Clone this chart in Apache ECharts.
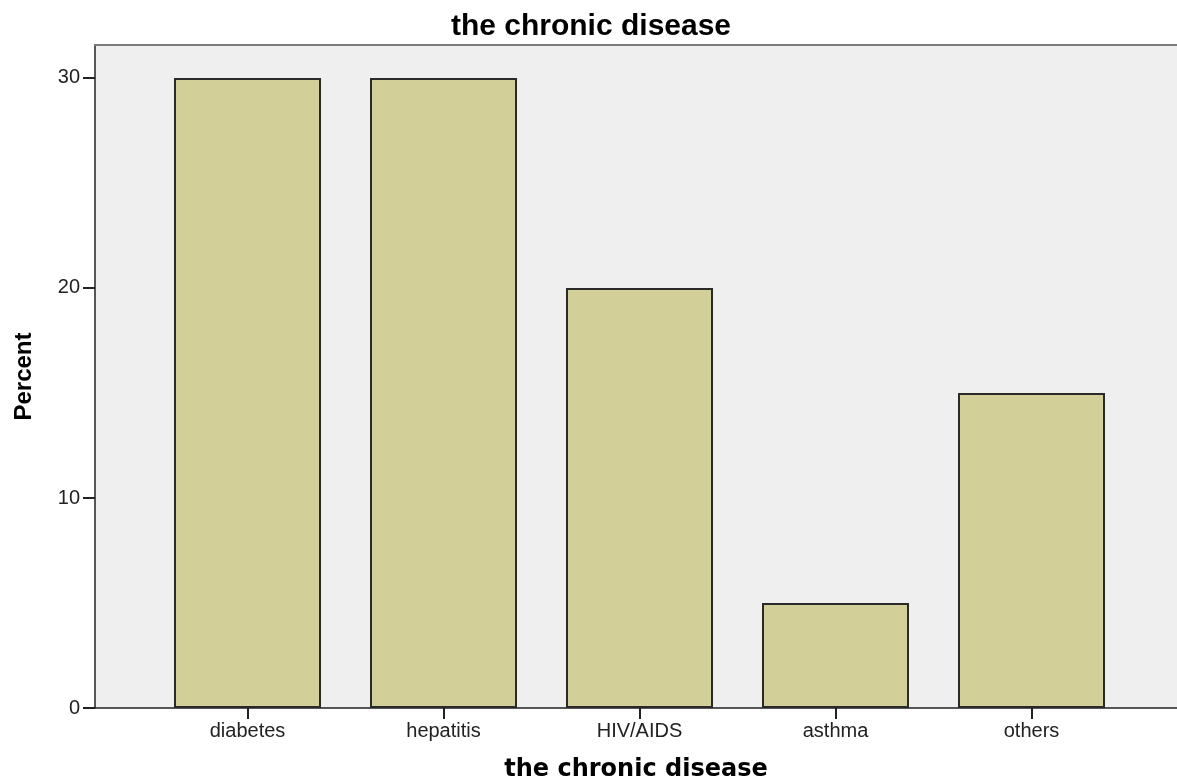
<!DOCTYPE html>
<html>
<head>
<meta charset="utf-8">
<script src="https://cdn.jsdelivr.net/npm/echarts@6/dist/echarts.min.js"></script>
<style>
  html, body { margin: 0; padding: 0; background: #fff; }
  #main { width: 1177px; height: 780px; }
</style>
</head>
<body>
<div id="main"></div>
<script>
// 数据
var categories = ['diabetes', 'hepatitis', 'HIV/AIDS', 'asthma', 'others'];
var percentValues = [30, 30, 20, 5, 15];
var yTicks = [0, 10, 20, 30];

var yMax = 31.57;
var font = 'Liberation Sans, Arial, sans-serif';

var chart = echarts.init(document.getElementById('main'));
var option = {
  animation: false,
  title: {
    text: 'the chronic disease',
    left: 586,
    top: 7,
    textAlign: 'center',
    textStyle: { fontFamily: font, fontSize: 30, fontWeight: 'bold', color: '#000' }
  },
  grid: [
    // 背景 + y轴
    { left: 95, right: 0, top: 45, bottom: 72, show: true, backgroundColor: '#efefef', borderWidth: 0, outerBoundsMode: 'none', containLabel: false },
    // 柱子
    { left: 149.5, right: 47.5, top: 45, bottom: 72, outerBoundsMode: 'none', containLabel: false }
  ],
  xAxis: [{
    gridIndex: 0,
    type: 'value',
    position: 'bottom',
    axisLine: { show: true, onZero: false, lineStyle: { color: '#222', width: 1.5 } },
    axisTick: { show: false },
    axisLabel: { show: false },
    splitLine: { show: false },
    name: 'the chronic disease',
    nameLocation: 'middle',
    nameGap: 50,
    nameTextStyle: { fontFamily: 'DejaVu Sans, sans-serif', fontSize: 24, fontWeight: 'bold', color: '#000' }
  }, {
    gridIndex: 0,
    type: 'value',
    position: 'top',
    axisLine: { show: true, onZero: false, lineStyle: { color: '#7a7a7a', width: 2 } },
    axisTick: { show: false },
    axisLabel: { show: false },
    splitLine: { show: false }
  }, {
    gridIndex: 1,
    type: 'category',
    data: categories,
    axisLine: { show: false },
    axisTick: { show: true, alignWithLabel: true, length: 11, lineStyle: { color: '#222', width: 2 } },
    axisLabel: { margin: 13, fontFamily: font, fontSize: 20, color: '#222' }
  }],
  yAxis: [{
    gridIndex: 0,
    type: 'value',
    min: 0,
    max: yMax,
    interval: 10,
    axisLine: { show: true, lineStyle: { color: '#222', width: 1.5 } },
    axisTick: { show: true, length: 12, customValues: yTicks, lineStyle: { color: '#222', width: 2 } },
    axisLabel: { margin: 15, customValues: yTicks, fontFamily: font, fontSize: 20, color: '#222' },
    splitLine: { show: false },
    name: 'Percent',
    nameLocation: 'middle',
    nameGap: 59,
    nameTextStyle: { fontFamily: font, fontSize: 24, fontWeight: 'bold', color: '#000' }
  }, {
    gridIndex: 1,
    type: 'value',
    min: 0,
    max: yMax,
    show: false
  }],
  series: [{
    type: 'bar',
    xAxisIndex: 2,
    yAxisIndex: 1,
    barWidth: 147,
    data: percentValues,
    itemStyle: {
      color: '#d3cf99',
      borderColor: '#2a2a2a',
      borderWidth: 2
    }
  }]
};
chart.setOption(option);
</script>
</body>
</html>
